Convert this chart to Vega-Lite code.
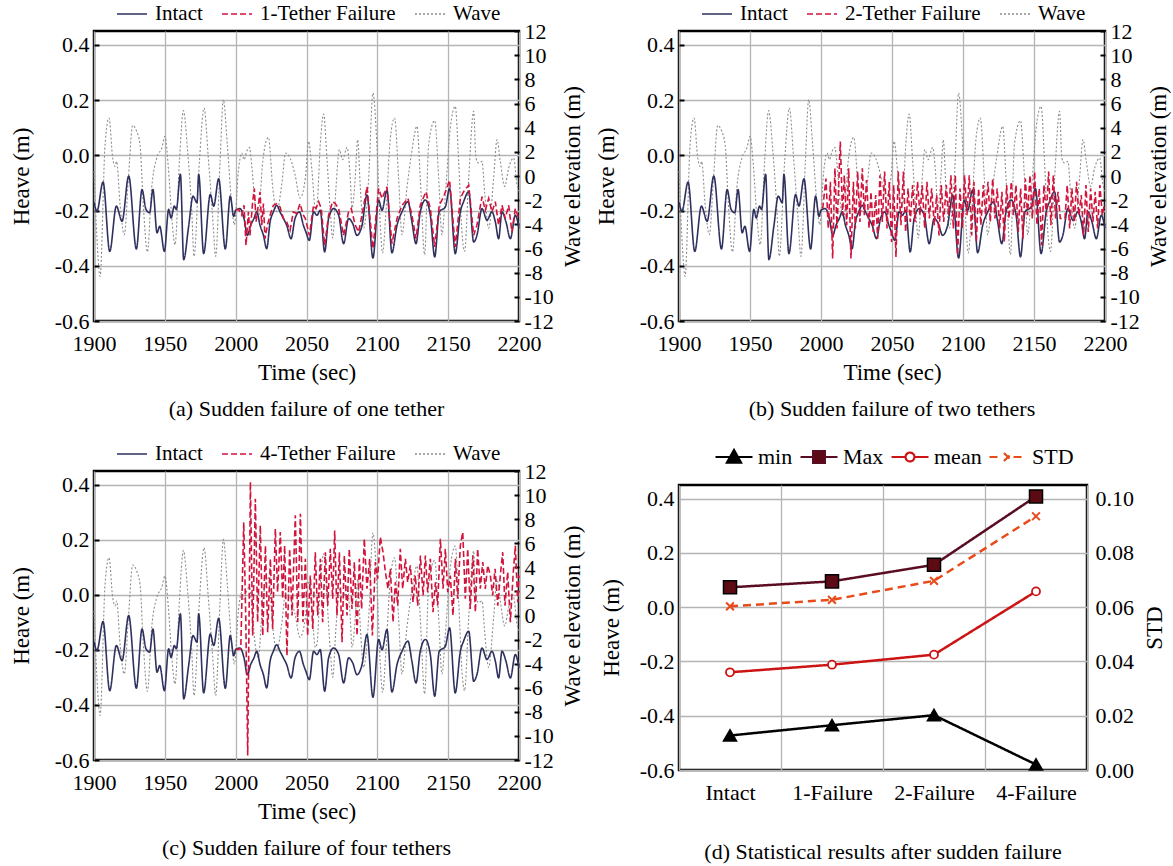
{
  "$schema": "https://vega.github.io/schema/vega-lite/v6.json",
  "padding": {"left": 8, "top": -4, "right": 10, "bottom": 5},
  "background": "white",
  "config": {
    "font": "Liberation Serif",
    "view": {"stroke": "#000000", "strokeWidth": 2.5},
    "axis": {
      "labelFont": "Liberation Serif", "labelFontSize": 22, "labelColor": "#000000",
      "titleFont": "Liberation Serif", "titleFontSize": 23, "titleFontWeight": "normal", "titleColor": "#000000",
      "domain": false, "gridColor": "#b4b4b4", "gridWidth": 1.3, "tickColor": "#000000", "tickWidth": 2,
      "labelFlush": false, "labelOverlap": false
    },
    "legend": {"labelFont": "Liberation Serif", "labelColor": "#000000", "labelLimit": 0},
    "title": {"font": "Liberation Serif", "fontSize": 22, "fontWeight": "normal", "color": "#000000", "orient": "bottom", "anchor": "middle"}
  },
  "datasets": {
    "intact": [
      {"t":1900.0,"h":-0.170},{"t":1902.1,"h":-0.202},{"t":1906.4,"h":-0.097},{"t":1911.1,"h":-0.348},{"t":1915.8,"h":-0.184},
      {"t":1919.8,"h":-0.239},{"t":1924.5,"h":-0.075},{"t":1929.9,"h":-0.339},{"t":1933.9,"h":-0.124},{"t":1936.7,"h":-0.196},
      {"t":1939.3,"h":-0.208},{"t":1941.6,"h":-0.124},{"t":1944.5,"h":-0.281},{"t":1946.4,"h":-0.257},{"t":1949.7,"h":-0.348},
      {"t":1952.7,"h":-0.196},{"t":1954.4,"h":-0.227},{"t":1956.7,"h":-0.184},{"t":1958.1,"h":-0.196},{"t":1961.0,"h":-0.069},
      {"t":1963.3,"h":-0.378},{"t":1966.8,"h":-0.257},{"t":1969.9,"h":-0.148},{"t":1972.7,"h":-0.172},{"t":1973.9,"h":-0.069},
      {"t":1977.4,"h":-0.356},{"t":1982.1,"h":-0.142},{"t":1984.5,"h":-0.184},{"t":1988.0,"h":-0.085},{"t":1992.7,"h":-0.339},
      {"t":1996.2,"h":-0.148},{"t":1998.6,"h":-0.221},{"t":2000.0,"h":-0.199},{"t":2003.1,"h":-0.193},{"t":2005.9,"h":-0.229},
      {"t":2008.3,"h":-0.290},{"t":2010.6,"h":-0.253},{"t":2012.9,"h":-0.229},{"t":2014.9,"h":-0.205},{"t":2017.2,"h":-0.253},
      {"t":2019.6,"h":-0.290},{"t":2021.9,"h":-0.338},{"t":2024.3,"h":-0.241},{"t":2026.6,"h":-0.205},{"t":2029.0,"h":-0.181},
      {"t":2031.3,"h":-0.205},{"t":2033.7,"h":-0.229},{"t":2036.0,"h":-0.253},{"t":2039.1,"h":-0.302},{"t":2041.9,"h":-0.229},
      {"t":2045.0,"h":-0.205},{"t":2047.8,"h":-0.253},{"t":2049.6,"h":-0.278},{"t":2052.0,"h":-0.308},{"t":2055.0,"h":-0.205},
      {"t":2057.4,"h":-0.217},{"t":2059.7,"h":-0.199},{"t":2062.8,"h":-0.350},{"t":2065.6,"h":-0.229},{"t":2069.2,"h":-0.193},
      {"t":2072.7,"h":-0.217},{"t":2076.2,"h":-0.320},{"t":2079.7,"h":-0.229},{"t":2082.6,"h":-0.247},{"t":2085.6,"h":-0.290},
      {"t":2089.2,"h":-0.253},{"t":2092.7,"h":-0.144},{"t":2096.9,"h":-0.372},{"t":2100.9,"h":-0.162},{"t":2103.3,"h":-0.199},
      {"t":2106.8,"h":-0.126},{"t":2110.3,"h":-0.353},{"t":2113.9,"h":-0.253},{"t":2117.4,"h":-0.205},{"t":2121.6,"h":-0.168},
      {"t":2124.4,"h":-0.241},{"t":2127.3,"h":-0.320},{"t":2130.3,"h":-0.205},{"t":2133.9,"h":-0.162},{"t":2137.4,"h":-0.217},
      {"t":2140.5,"h":-0.368},{"t":2143.7,"h":-0.205},{"t":2148.0,"h":-0.187},{"t":2151.0,"h":-0.120},{"t":2155.0,"h":-0.356},
      {"t":2158.6,"h":-0.205},{"t":2160.9,"h":-0.168},{"t":2164.5,"h":-0.132},{"t":2168.0,"h":-0.314},{"t":2170.3,"h":-0.290},
      {"t":2173.9,"h":-0.193},{"t":2177.4,"h":-0.235},{"t":2180.9,"h":-0.205},{"t":2183.3,"h":-0.241},{"t":2185.6,"h":-0.302},
      {"t":2188.0,"h":-0.205},{"t":2190.8,"h":-0.241},{"t":2193.9,"h":-0.302},{"t":2197.4,"h":-0.217},{"t":2200.0,"h":-0.265}
    ],
    "wave": [
      {"t":1900.0,"w":0.4},{"t":1902.0,"w":-5.0},{"t":1904.3,"w":-8.3},{"t":1907.8,"w":2.59},{"t":1910.6,"w":4.80},
      {"t":1913.2,"w":1.49},{"t":1914.8,"w":0.80},{"t":1916.0,"w":1.21},{"t":1918.4,"w":-2.37},{"t":1921.4,"w":-4.86},
      {"t":1924.3,"w":-0.17},{"t":1927.3,"w":4.19},{"t":1930.1,"w":3.70},{"t":1932.5,"w":2.59},{"t":1934.8,"w":-2.37},
      {"t":1937.7,"w":-6.29},{"t":1940.7,"w":-0.99},{"t":1944.3,"w":1.49},{"t":1947.8,"w":2.32},{"t":1950.1,"w":3.28},
      {"t":1952.5,"w":0.66},{"t":1954.9,"w":-3.48},{"t":1957.2,"w":-5.69},{"t":1960.3,"w":1.21},{"t":1963.1,"w":5.41},
      {"t":1966.1,"w":2.04},{"t":1969.0,"w":-2.93},{"t":1970.6,"w":-6.65},{"t":1974.4,"w":1.21},{"t":1977.7,"w":5.63},
      {"t":1980.7,"w":1.49},{"t":1983.8,"w":-3.48},{"t":1985.9,"w":-6.65},{"t":1989.0,"w":1.21},{"t":1991.3,"w":6.32},
      {"t":1994.1,"w":2.59},{"t":1997.2,"w":-2.37},{"t":1999.1,"w":-4.03},{"t":2001.9,"w":0.38},{"t":2004.3,"w":1.90},
      {"t":2005.9,"w":1.35},{"t":2007.8,"w":2.04},{"t":2009.7,"w":2.37},{"t":2011.3,"w":0.94},{"t":2013.7,"w":-2.37},
      {"t":2016.0,"w":-3.48},{"t":2019.1,"w":1.21},{"t":2023.1,"w":3.20},{"t":2026.2,"w":-0.99},{"t":2029.0,"w":-2.93},
      {"t":2032.5,"w":-0.72},{"t":2035.3,"w":1.90},{"t":2038.4,"w":1.49},{"t":2041.9,"w":0.11},{"t":2045.4,"w":-1.82},
      {"t":2049.2,"w":-0.17},{"t":2051.5,"w":2.87},{"t":2053.9,"w":0.38},{"t":2056.2,"w":-2.65},{"t":2057.4,"w":-2.37},
      {"t":2059.7,"w":2.59},{"t":2062.1,"w":5.13},{"t":2064.4,"w":1.49},{"t":2066.8,"w":-2.93},{"t":2068.5,"w":-5.13},
      {"t":2070.8,"w":-0.99},{"t":2073.2,"w":2.18},{"t":2075.5,"w":1.35},{"t":2078.6,"w":2.37},{"t":2080.9,"w":-0.17},
      {"t":2082.1,"w":-2.65},{"t":2084.4,"w":-0.17},{"t":2086.1,"w":3.00},{"t":2088.0,"w":-0.99},{"t":2090.3,"w":-4.31},
      {"t":2093.9,"w":-0.17},{"t":2096.9,"w":6.87},{"t":2099.7,"w":2.59},{"t":2102.1,"w":-4.03},{"t":2103.7,"w":-6.37},
      {"t":2106.1,"w":-2.93},{"t":2109.2,"w":3.14},{"t":2112.2,"w":4.80},{"t":2115.0,"w":-0.17},{"t":2117.4,"w":-4.86},
      {"t":2120.9,"w":-0.99},{"t":2124.0,"w":1.76},{"t":2128.0,"w":4.11},{"t":2130.3,"w":-0.17},{"t":2133.4,"w":-6.51},
      {"t":2136.2,"w":2.59},{"t":2140.5,"w":4.58},{"t":2143.3,"w":-0.17},{"t":2145.6,"w":-4.86},{"t":2148.0,"w":-1.55},
      {"t":2151.5,"w":3.97},{"t":2155.0,"w":5.76},{"t":2157.4,"w":1.21},{"t":2159.7,"w":-4.58},{"t":2161.6,"w":-6.24},
      {"t":2164.5,"w":-0.17},{"t":2168.0,"w":5.35},{"t":2169.6,"w":1.49},{"t":2171.5,"w":1.07},{"t":2173.9,"w":1.21},
      {"t":2175.7,"w":-1.27},{"t":2178.6,"w":-4.31},{"t":2182.1,"w":-0.17},{"t":2184.5,"w":3.01},{"t":2186.8,"w":1.21},
      {"t":2189.9,"w":-0.86},{"t":2192.7,"w":0.66},{"t":2196.2,"w":1.49},{"t":2198.6,"w":-0.72},{"t":2200.0,"w":-1.27}
    ],
    "f1": [
      {"t":2000.0,"h":-0.199},{"t":2002.0,"h":-0.195},{"t":2004.3,"h":-0.217},{"t":2005.9,"h":-0.181},{"t":2007.3,"h":-0.326},
      {"t":2009.0,"h":-0.205},{"t":2010.1,"h":-0.290},{"t":2012.0,"h":-0.168},{"t":2013.2,"h":-0.120},{"t":2014.4,"h":-0.241},
      {"t":2016.0,"h":-0.181},{"t":2017.2,"h":-0.132},{"t":2018.4,"h":-0.253},{"t":2019.6,"h":-0.175},{"t":2020.7,"h":-0.302},
      {"t":2022.4,"h":-0.253},{"t":2024.3,"h":-0.217},{"t":2026.6,"h":-0.181},{"t":2029.0,"h":-0.175},{"t":2031.3,"h":-0.187},
      {"t":2033.7,"h":-0.229},{"t":2036.0,"h":-0.241},{"t":2038.4,"h":-0.272},{"t":2040.7,"h":-0.205},{"t":2043.1,"h":-0.211},
      {"t":2045.4,"h":-0.175},{"t":2047.8,"h":-0.217},{"t":2049.2,"h":-0.229},{"t":2052.0,"h":-0.290},{"t":2055.0,"h":-0.181},
      {"t":2056.7,"h":-0.193},{"t":2058.6,"h":-0.168},{"t":2060.4,"h":-0.193},{"t":2062.8,"h":-0.326},{"t":2065.6,"h":-0.217},
      {"t":2068.4,"h":-0.168},{"t":2070.3,"h":-0.175},{"t":2072.7,"h":-0.193},{"t":2076.2,"h":-0.290},{"t":2079.7,"h":-0.205},
      {"t":2081.6,"h":-0.193},{"t":2084.4,"h":-0.253},{"t":2086.8,"h":-0.278},{"t":2089.6,"h":-0.205},{"t":2092.7,"h":-0.114},
      {"t":2096.9,"h":-0.338},{"t":2100.9,"h":-0.120},{"t":2103.3,"h":-0.156},{"t":2106.8,"h":-0.114},{"t":2110.3,"h":-0.320},
      {"t":2113.9,"h":-0.229},{"t":2117.4,"h":-0.181},{"t":2121.6,"h":-0.156},{"t":2124.4,"h":-0.217},{"t":2127.3,"h":-0.302},
      {"t":2130.3,"h":-0.181},{"t":2134.3,"h":-0.132},{"t":2137.4,"h":-0.193},{"t":2140.5,"h":-0.332},{"t":2143.7,"h":-0.181},
      {"t":2146.8,"h":-0.150},{"t":2151.0,"h":-0.090},{"t":2155.0,"h":-0.332},{"t":2158.6,"h":-0.156},{"t":2160.9,"h":-0.132},
      {"t":2164.5,"h":-0.108},{"t":2168.0,"h":-0.290},{"t":2170.3,"h":-0.253},{"t":2173.9,"h":-0.150},{"t":2176.2,"h":-0.199},
      {"t":2178.6,"h":-0.156},{"t":2180.9,"h":-0.205},{"t":2183.3,"h":-0.168},{"t":2185.6,"h":-0.253},{"t":2188.0,"h":-0.181},
      {"t":2190.3,"h":-0.229},{"t":2192.7,"h":-0.181},{"t":2195.0,"h":-0.278},{"t":2197.4,"h":-0.193},{"t":2199.8,"h":-0.229}
    ],
    "f2": [
      {"t":2001.2,"h":-0.193},{"t":2003.5,"h":-0.084},{"t":2005.1,"h":-0.265},{"t":2006.6,"h":-0.096},{"t":2008.2,"h":-0.374},
      {"t":2009.8,"h":-0.047},{"t":2011.3,"h":-0.265},{"t":2013.6,"h":0.050},{"t":2015.2,"h":-0.217},{"t":2016.4,"h":-0.072},
      {"t":2018.1,"h":-0.253},{"t":2019.5,"h":-0.047},{"t":2021.1,"h":-0.374},{"t":2022.8,"h":-0.096},{"t":2024.2,"h":-0.265},
      {"t":2025.8,"h":-0.059},{"t":2027.4,"h":-0.241},{"t":2029.1,"h":-0.047},{"t":2030.5,"h":-0.217},{"t":2032.1,"h":-0.090},
      {"t":2033.8,"h":-0.265},{"t":2035.2,"h":-0.132},{"t":2036.8,"h":-0.278},{"t":2038.5,"h":-0.144},{"t":2039.9,"h":-0.302},
      {"t":2041.5,"h":-0.072},{"t":2043.2,"h":-0.241},{"t":2044.8,"h":-0.059},{"t":2046.5,"h":-0.265},{"t":2048.1,"h":-0.096},
      {"t":2049.7,"h":-0.314},{"t":2051.2,"h":-0.108},{"t":2052.8,"h":-0.368},{"t":2054.4,"h":-0.059},{"t":2056.3,"h":-0.253},
      {"t":2058.0,"h":-0.059},{"t":2059.6,"h":-0.278},{"t":2061.3,"h":-0.120},{"t":2062.9,"h":-0.241},{"t":2064.5,"h":-0.108},
      {"t":2066.2,"h":-0.241},{"t":2068.0,"h":-0.096},{"t":2069.7,"h":-0.217},{"t":2071.3,"h":-0.108},{"t":2073.0,"h":-0.265},
      {"t":2074.6,"h":-0.096},{"t":2076.3,"h":-0.229},{"t":2077.9,"h":-0.120},{"t":2079.8,"h":-0.253},{"t":2081.4,"h":-0.144},
      {"t":2083.1,"h":-0.290},{"t":2084.7,"h":-0.108},{"t":2086.4,"h":-0.241},{"t":2088.2,"h":-0.108},{"t":2089.9,"h":-0.217},
      {"t":2091.5,"h":-0.072},{"t":2093.2,"h":-0.265},{"t":2094.6,"h":-0.072},{"t":2096.2,"h":-0.362},{"t":2097.9,"h":-0.120},
      {"t":2099.5,"h":-0.265},{"t":2101.1,"h":-0.072},{"t":2102.8,"h":-0.217},{"t":2104.4,"h":-0.072},{"t":2106.1,"h":-0.290},
      {"t":2107.7,"h":-0.096},{"t":2109.4,"h":-0.314},{"t":2111.0,"h":-0.120},{"t":2112.6,"h":-0.253},{"t":2114.3,"h":-0.108},
      {"t":2115.9,"h":-0.217},{"t":2117.6,"h":-0.096},{"t":2119.2,"h":-0.241},{"t":2120.9,"h":-0.084},{"t":2122.5,"h":-0.229},
      {"t":2124.1,"h":-0.120},{"t":2125.8,"h":-0.265},{"t":2127.4,"h":-0.132},{"t":2129.1,"h":-0.314},{"t":2130.7,"h":-0.108},
      {"t":2132.4,"h":-0.229},{"t":2134.0,"h":-0.096},{"t":2135.6,"h":-0.217},{"t":2137.3,"h":-0.108},{"t":2138.9,"h":-0.278},
      {"t":2140.6,"h":-0.120},{"t":2142.2,"h":-0.302},{"t":2143.9,"h":-0.084},{"t":2145.5,"h":-0.217},{"t":2147.2,"h":-0.072},
      {"t":2148.8,"h":-0.229},{"t":2150.4,"h":-0.059},{"t":2152.1,"h":-0.253},{"t":2153.7,"h":-0.120},{"t":2155.4,"h":-0.326},
      {"t":2157.0,"h":-0.108},{"t":2158.7,"h":-0.217},{"t":2160.3,"h":-0.059},{"t":2161.9,"h":-0.253},{"t":2163.6,"h":-0.072},
      {"t":2165.2,"h":-0.229},{"t":2166.9,"h":-0.132},{"t":2168.5,"h":-0.229},{"t":2170.1,"h":-0.229},{"t":2171.8,"h":-0.229},
      {"t":2173.4,"h":-0.108},{"t":2175.1,"h":-0.265},{"t":2176.7,"h":-0.120},{"t":2178.4,"h":-0.241},{"t":2180.0,"h":-0.096},
      {"t":2181.6,"h":-0.217},{"t":2183.3,"h":-0.144},{"t":2184.9,"h":-0.290},{"t":2186.6,"h":-0.108},{"t":2188.2,"h":-0.278},
      {"t":2189.9,"h":-0.120},{"t":2191.5,"h":-0.241},{"t":2193.1,"h":-0.132},{"t":2194.8,"h":-0.265},{"t":2196.4,"h":-0.108},
      {"t":2198.1,"h":-0.217},{"t":2199.5,"h":-0.180}
    ],
    "f4": [
      {"t":2000.0,"h":-0.199},{"t":2003.6,"h":-0.196},{"t":2005.7,"h":0.264},{"t":2007.1,"h":-0.075},{"t":2008.5,"h":-0.584},
      {"t":2010.4,"h":0.410},{"t":2012.0,"h":-0.148},{"t":2013.9,"h":0.349},{"t":2015.5,"h":-0.099},{"t":2017.4,"h":0.252},
      {"t":2019.1,"h":-0.148},{"t":2021.0,"h":0.179},{"t":2022.6,"h":-0.136},{"t":2024.5,"h":0.131},{"t":2026.1,"h":-0.124},
      {"t":2028.0,"h":0.240},{"t":2029.6,"h":0.010},{"t":2031.5,"h":0.228},{"t":2033.2,"h":-0.014},{"t":2034.6,"h":0.179},
      {"t":2036.2,"h":-0.221},{"t":2038.1,"h":0.167},{"t":2039.8,"h":-0.075},{"t":2042.1,"h":0.289},{"t":2043.8,"h":-0.099},
      {"t":2045.7,"h":0.295},{"t":2047.5,"h":-0.099},{"t":2049.2,"h":0.131},{"t":2050.8,"h":-0.148},{"t":2052.7,"h":0.070},
      {"t":2054.4,"h":-0.124},{"t":2056.2,"h":0.155},{"t":2057.9,"h":-0.075},{"t":2059.8,"h":0.131},{"t":2061.4,"h":-0.099},
      {"t":2063.3,"h":0.155},{"t":2065.0,"h":-0.039},{"t":2066.8,"h":0.167},{"t":2068.5,"h":-0.014},{"t":2069.9,"h":0.234},
      {"t":2071.5,"h":-0.075},{"t":2073.2,"h":0.155},{"t":2075.1,"h":-0.172},{"t":2076.7,"h":0.143},{"t":2078.6,"h":-0.075},
      {"t":2080.2,"h":0.167},{"t":2082.1,"h":-0.051},{"t":2083.8,"h":0.119},{"t":2085.7,"h":-0.148},{"t":2087.3,"h":0.131},
      {"t":2088.9,"h":-0.051},{"t":2090.8,"h":0.204},{"t":2092.7,"h":0.022},{"t":2094.6,"h":0.131},{"t":2096.5,"h":-0.148},
      {"t":2098.6,"h":0.119},{"t":2100.2,"h":0.058},{"t":2102.1,"h":0.210},{"t":2104.0,"h":0.155},{"t":2105.7,"h":0.083},
      {"t":2107.5,"h":0.022},{"t":2109.2,"h":0.095},{"t":2111.1,"h":-0.099},{"t":2112.7,"h":0.046},{"t":2114.4,"h":-0.039},
      {"t":2116.2,"h":0.167},{"t":2117.9,"h":0.022},{"t":2119.8,"h":0.131},{"t":2121.4,"h":0.046},{"t":2123.3,"h":0.107},
      {"t":2125.2,"h":-0.027},{"t":2126.8,"h":0.070},{"t":2128.5,"h":-0.039},{"t":2130.4,"h":0.143},{"t":2132.3,"h":-0.002},
      {"t":2133.9,"h":0.143},{"t":2135.5,"h":0.010},{"t":2137.4,"h":0.131},{"t":2139.3,"h":-0.063},{"t":2141.0,"h":0.046},
      {"t":2142.6,"h":-0.039},{"t":2144.5,"h":0.204},{"t":2146.4,"h":0.022},{"t":2148.0,"h":0.167},{"t":2149.7,"h":0.010},
      {"t":2151.5,"h":0.070},{"t":2153.4,"h":-0.075},{"t":2155.1,"h":0.131},{"t":2156.7,"h":-0.014},{"t":2158.6,"h":0.179},
      {"t":2160.3,"h":0.228},{"t":2162.1,"h":-0.014},{"t":2163.8,"h":0.167},{"t":2165.6,"h":-0.051},{"t":2167.5,"h":0.143},
      {"t":2169.2,"h":-0.063},{"t":2170.8,"h":0.167},{"t":2172.7,"h":0.022},{"t":2174.4,"h":0.119},{"t":2176.2,"h":0.022},
      {"t":2177.9,"h":0.107},{"t":2179.8,"h":0.070},{"t":2181.4,"h":-0.002},{"t":2183.1,"h":0.095},{"t":2185.0,"h":-0.039},
      {"t":2186.8,"h":0.070},{"t":2188.5,"h":0.155},{"t":2190.1,"h":-0.039},{"t":2192.0,"h":0.083},{"t":2193.9,"h":-0.099},
      {"t":2195.8,"h":0.070},{"t":2197.4,"h":0.179},{"t":2199.1,"h":-0.027},{"t":2200.0,"h":0.070}
    ],
    "stats": [
      {"cat":"Intact","series":"min","v":-0.473},{"cat":"1-Failure","series":"min","v":-0.435},{"cat":"2-Failure","series":"min","v":-0.398},{"cat":"4-Failure","series":"min","v":-0.580},
      {"cat":"Intact","series":"Max","v":0.073},{"cat":"1-Failure","series":"Max","v":0.095},{"cat":"2-Failure","series":"Max","v":0.156},{"cat":"4-Failure","series":"Max","v":0.408},
      {"cat":"Intact","series":"mean","v":-0.240},{"cat":"1-Failure","series":"mean","v":-0.212},{"cat":"2-Failure","series":"mean","v":-0.175},{"cat":"4-Failure","series":"mean","v":0.058}
    ],
    "std": [
      {"cat":"Intact","std":0.0603},{"cat":"1-Failure","std":0.0627},{"cat":"2-Failure","std":0.0697},{"cat":"4-Failure","std":0.0935}
    ]
  },
  "spacing": 7,
  "resolve": {"scale": {"color": "independent", "strokeDash": "independent"}, "legend": {"color": "independent", "strokeDash": "independent"}},
  "hconcat": [
    {
      "bounds": "flush",
      "spacing": 150,
      "resolve": {"scale": {"color": "independent", "strokeDash": "independent"}, "legend": {"color": "independent", "strokeDash": "independent"}},
      "vconcat": [
        {
          "width": 425, "height": 290,
          "title": {"text": "(a) Sudden failure of one tether", "offset": 15},
          "resolve": {"scale": {"y": "independent"}},
          "layer": [
            {
              "data": {"name": "wave"},
              "mark": {"type": "line", "strokeWidth": 1.1, "interpolate": "monotone"},
              "encoding": {
                "x": {"field": "t", "type": "quantitative", "scale": {"domain": [1900, 2200], "nice": false, "zero": false},
                      "axis": {"values": [1900, 1950, 2000, 2050, 2100, 2150, 2200], "format": "d", "title": "Time (sec)", "grid": true, "ticks": false, "labelPadding": 12, "titlePadding": 7}},
                "y": {"field": "w", "type": "quantitative", "scale": {"domain": [-12, 12], "nice": false, "zero": false},
                      "axis": {"orient": "right", "values": [-12, -10, -8, -6, -4, -2, 0, 2, 4, 6, 8, 10, 12], "format": "d", "labelExpr": "replace(datum.label, '\u2212', '-')", "title": "Wave elevation (m)", "titleAngle": 270, "titleBaseline": "top", "grid": false, "tickSize": -5, "labelPadding": 10, "titlePadding": 8}},
                "color": {"datum": "Wave", "scale": {"domain": ["Intact", "1-Tether Failure", "Wave"], "range": ["#2e305e", "#d2143c", "#8c8c8c"]},
                          "legend": {"title": null, "orient": "none", "legendX": 22, "legendY": -33, "direction": "horizontal", "columns": 3, "symbolType": "stroke", "symbolSize": 900, "symbolStrokeWidth": 1.5, "labelFontSize": 21, "labelOffset": 7, "columnPadding": 16}},
                "strokeDash": {"datum": "Wave", "scale": {"domain": ["Intact", "1-Tether Failure", "Wave"], "range": [[1, 0], [6, 3], [2, 2]]},
                          "legend": {"title": null, "orient": "none", "legendX": 22, "legendY": -33, "direction": "horizontal", "columns": 3, "symbolType": "stroke", "symbolSize": 900, "symbolStrokeWidth": 1.5, "labelFontSize": 21, "labelOffset": 7, "columnPadding": 16}}
              }
            },
            {
              "data": {"name": "intact"},
              "mark": {"type": "line", "strokeWidth": 1.6, "interpolate": "monotone"},
              "encoding": {
                "x": {"field": "t", "type": "quantitative"},
                "y": {"field": "h", "type": "quantitative", "scale": {"domain": [-0.6, 0.45], "nice": false, "zero": false},
                      "axis": {"orient": "left", "values": [-0.6, -0.4, -0.2, 0, 0.2, 0.4], "format": ".1f", "labelExpr": "replace(datum.label, '\u2212', '-')", "title": "Heave (m)", "grid": true, "tickSize": -5, "labelPadding": 10, "titlePadding": 21}},
                "color": {"datum": "Intact"},
                "strokeDash": {"datum": "Intact"}
              }
            },
            {
              "data": {"name": "f1"},
              "mark": {"type": "line", "strokeWidth": 1.6},
              "encoding": {
                "x": {"field": "t", "type": "quantitative"},
                "y": {"field": "h", "type": "quantitative", "scale": {"domain": [-0.6, 0.45], "nice": false, "zero": false}, "axis": null},
                "color": {"datum": "1-Tether Failure"},
                "strokeDash": {"datum": "1-Tether Failure"}
              }
            }
          ]
        },
        {
          "width": 425, "height": 289,
          "title": {"text": "(c) Sudden failure of four tethers", "offset": 15},
          "resolve": {"scale": {"y": "independent"}},
          "layer": [
            {
              "data": {"name": "wave"},
              "mark": {"type": "line", "strokeWidth": 1.1, "interpolate": "monotone"},
              "encoding": {
                "x": {"field": "t", "type": "quantitative", "scale": {"domain": [1900, 2200], "nice": false, "zero": false},
                      "axis": {"values": [1900, 1950, 2000, 2050, 2100, 2150, 2200], "format": "d", "title": "Time (sec)", "grid": true, "ticks": false, "labelPadding": 12, "titlePadding": 7}},
                "y": {"field": "w", "type": "quantitative", "scale": {"domain": [-12, 12], "nice": false, "zero": false},
                      "axis": {"orient": "right", "values": [-12, -10, -8, -6, -4, -2, 0, 2, 4, 6, 8, 10, 12], "format": "d", "labelExpr": "replace(datum.label, '\u2212', '-')", "title": "Wave elevation (m)", "titleAngle": 270, "titleBaseline": "top", "grid": false, "tickSize": -5, "labelPadding": 10, "titlePadding": 8}},
                "color": {"datum": "Wave", "scale": {"domain": ["Intact", "4-Tether Failure", "Wave"], "range": ["#2e305e", "#d2143c", "#8c8c8c"]},
                          "legend": {"title": null, "orient": "none", "legendX": 22, "legendY": -33, "direction": "horizontal", "columns": 3, "symbolType": "stroke", "symbolSize": 900, "symbolStrokeWidth": 1.5, "labelFontSize": 21, "labelOffset": 7, "columnPadding": 16}},
                "strokeDash": {"datum": "Wave", "scale": {"domain": ["Intact", "4-Tether Failure", "Wave"], "range": [[1, 0], [6, 3], [2, 2]]},
                          "legend": {"title": null, "orient": "none", "legendX": 22, "legendY": -33, "direction": "horizontal", "columns": 3, "symbolType": "stroke", "symbolSize": 900, "symbolStrokeWidth": 1.5, "labelFontSize": 21, "labelOffset": 7, "columnPadding": 16}}
              }
            },
            {
              "data": {"name": "intact"},
              "mark": {"type": "line", "strokeWidth": 1.6, "interpolate": "monotone"},
              "encoding": {
                "x": {"field": "t", "type": "quantitative"},
                "y": {"field": "h", "type": "quantitative", "scale": {"domain": [-0.6, 0.45], "nice": false, "zero": false},
                      "axis": {"orient": "left", "values": [-0.6, -0.4, -0.2, 0, 0.2, 0.4], "format": ".1f", "labelExpr": "replace(datum.label, '\u2212', '-')", "title": "Heave (m)", "grid": true, "tickSize": -5, "labelPadding": 10, "titlePadding": 21}},
                "color": {"datum": "Intact"},
                "strokeDash": {"datum": "Intact"}
              }
            },
            {
              "data": {"name": "f4"},
              "mark": {"type": "line", "strokeWidth": 1.6},
              "encoding": {
                "x": {"field": "t", "type": "quantitative"},
                "y": {"field": "h", "type": "quantitative", "scale": {"domain": [-0.6, 0.45], "nice": false, "zero": false}, "axis": null},
                "color": {"datum": "4-Tether Failure"},
                "strokeDash": {"datum": "4-Tether Failure"}
              }
            }
          ]
        }
      ]
    },
    {
      "bounds": "flush",
      "spacing": 164,
      "resolve": {"scale": {"color": "independent", "strokeDash": "independent"}, "legend": {"color": "independent", "strokeDash": "independent"}},
      "vconcat": [
        {
          "width": 426, "height": 290,
          "title": {"text": "(b) Sudden failure of two tethers", "offset": 15},
          "resolve": {"scale": {"y": "independent"}},
          "layer": [
            {
              "data": {"name": "wave"},
              "mark": {"type": "line", "strokeWidth": 1.1, "interpolate": "monotone"},
              "encoding": {
                "x": {"field": "t", "type": "quantitative", "scale": {"domain": [1900, 2200], "nice": false, "zero": false},
                      "axis": {"values": [1900, 1950, 2000, 2050, 2100, 2150, 2200], "format": "d", "title": "Time (sec)", "grid": true, "ticks": false, "labelPadding": 12, "titlePadding": 7}},
                "y": {"field": "w", "type": "quantitative", "scale": {"domain": [-12, 12], "nice": false, "zero": false},
                      "axis": {"orient": "right", "values": [-12, -10, -8, -6, -4, -2, 0, 2, 4, 6, 8, 10, 12], "format": "d", "labelExpr": "replace(datum.label, '\u2212', '-')", "title": "Wave elevation (m)", "titleAngle": 270, "titleBaseline": "top", "grid": false, "tickSize": -5, "labelPadding": 10, "titlePadding": 8}},
                "color": {"datum": "Wave", "scale": {"domain": ["Intact", "2-Tether Failure", "Wave"], "range": ["#2e305e", "#d2143c", "#8c8c8c"]},
                          "legend": {"title": null, "orient": "none", "legendX": 22, "legendY": -33, "direction": "horizontal", "columns": 3, "symbolType": "stroke", "symbolSize": 900, "symbolStrokeWidth": 1.5, "labelFontSize": 21, "labelOffset": 7, "columnPadding": 16}},
                "strokeDash": {"datum": "Wave", "scale": {"domain": ["Intact", "2-Tether Failure", "Wave"], "range": [[1, 0], [6, 3], [2, 2]]},
                          "legend": {"title": null, "orient": "none", "legendX": 22, "legendY": -33, "direction": "horizontal", "columns": 3, "symbolType": "stroke", "symbolSize": 900, "symbolStrokeWidth": 1.5, "labelFontSize": 21, "labelOffset": 7, "columnPadding": 16}}
              }
            },
            {
              "data": {"name": "intact"},
              "mark": {"type": "line", "strokeWidth": 1.6, "interpolate": "monotone"},
              "encoding": {
                "x": {"field": "t", "type": "quantitative"},
                "y": {"field": "h", "type": "quantitative", "scale": {"domain": [-0.6, 0.45], "nice": false, "zero": false},
                      "axis": {"orient": "left", "values": [-0.6, -0.4, -0.2, 0, 0.2, 0.4], "format": ".1f", "labelExpr": "replace(datum.label, '\u2212', '-')", "title": "Heave (m)", "grid": true, "tickSize": -5, "labelPadding": 10, "titlePadding": 21}},
                "color": {"datum": "Intact"},
                "strokeDash": {"datum": "Intact"}
              }
            },
            {
              "data": {"name": "f2"},
              "mark": {"type": "line", "strokeWidth": 1.6},
              "encoding": {
                "x": {"field": "t", "type": "quantitative"},
                "y": {"field": "h", "type": "quantitative", "scale": {"domain": [-0.6, 0.45], "nice": false, "zero": false}, "axis": null},
                "color": {"datum": "2-Tether Failure"},
                "strokeDash": {"datum": "2-Tether Failure"}
              }
            }
          ]
        },
        {
          "width": 408, "height": 285,
          "title": {"text": "(d) Statistical results after sudden failure", "offset": 39},
          "resolve": {"scale": {"y": "independent"}},
          "layer": [
            {
              "data": {"name": "stats"},
              "mark": {"type": "line", "strokeWidth": 2.5},
              "encoding": {
                "x": {"field": "cat", "type": "nominal", "scale": {"type": "band", "domain": ["Intact", "1-Failure", "2-Failure", "4-Failure"], "paddingInner": 0, "paddingOuter": 0},
                      "axis": {"title": null, "tickBand": "extent", "grid": true, "ticks": false, "labelAngle": 0, "labelPadding": 12}},
                "y": {"field": "v", "type": "quantitative", "scale": {"domain": [-0.6, 0.45], "nice": false, "zero": false},
                      "axis": {"orient": "left", "values": [-0.6, -0.4, -0.2, 0, 0.2, 0.4], "format": ".1f", "labelExpr": "replace(datum.label, '\u2212', '-')", "title": "Heave (m)", "grid": true, "ticks": false, "labelPadding": 5, "titlePadding": 16}},
                "color": {"field": "series", "type": "nominal", "scale": {"domain": ["min", "Max", "mean", "STD"], "range": ["#000000", "#5a0d22", "#cc1414", "#e84a1a"]},
                          "legend": {"title": null, "orient": "none", "legendX": 35, "legendY": -48, "direction": "horizontal", "columns": 4, "symbolSize": 1369, "symbolStrokeWidth": 2.2, "labelFontSize": 22, "labelOffset": 4, "columnPadding": 3,
                                     "encode": {"symbols": {"update": {
                                       "shape": {"signal": "datum.value === 'min' ? 'M-1,0H1M0,-0.38L0.38,0.3H-0.38Z' : datum.value === 'Max' ? 'M-1,0H-0.32M0.32,0H1M-0.32,-0.32H0.32V0.32H-0.32Z' : datum.value === 'mean' ? 'M-1,0H-0.24M0.24,0H1M0.24,0A0.24,0.24,0,1,1,-0.24,0A0.24,0.24,0,1,1,0.24,0' : 'M-1,0H-0.3M0.3,0H1M-0.22,-0.22L0.22,0.22M-0.22,0.22L0.22,-0.22'"},
                                       "fill": {"signal": "datum.value === 'min' ? '#000000' : datum.value === 'Max' ? '#5c0a14' : datum.value === 'mean' ? '#ffffff' : 'transparent'"}
                                     }}}}},
                "strokeDash": {"field": "series", "type": "nominal", "scale": {"domain": ["min", "Max", "mean", "STD"], "range": [[1, 0], [1, 0], [1, 0], [8, 5]]},
                          "legend": {"title": null, "orient": "none", "legendX": 35, "legendY": -48, "direction": "horizontal", "columns": 4, "symbolSize": 1369, "symbolStrokeWidth": 2.2, "labelFontSize": 22, "labelOffset": 4, "columnPadding": 3,
                                     "encode": {"symbols": {"update": {
                                       "shape": {"signal": "datum.value === 'min' ? 'M-1,0H1M0,-0.38L0.38,0.3H-0.38Z' : datum.value === 'Max' ? 'M-1,0H-0.32M0.32,0H1M-0.32,-0.32H0.32V0.32H-0.32Z' : datum.value === 'mean' ? 'M-1,0H-0.24M0.24,0H1M0.24,0A0.24,0.24,0,1,1,-0.24,0A0.24,0.24,0,1,1,0.24,0' : 'M-1,0H-0.3M0.3,0H1M-0.22,-0.22L0.22,0.22M-0.22,0.22L0.22,-0.22'"},
                                       "fill": {"signal": "datum.value === 'min' ? '#000000' : datum.value === 'Max' ? '#5c0a14' : datum.value === 'mean' ? '#ffffff' : 'transparent'"}
                                     }}}}}
              }
            },
            {
              "data": {"name": "std"},
              "mark": {"type": "line", "strokeWidth": 2.5},
              "encoding": {
                "x": {"field": "cat", "type": "nominal"},
                "y": {"field": "std", "type": "quantitative", "scale": {"domain": [0, 0.105], "nice": false, "zero": false},
                      "axis": {"orient": "right", "values": [0, 0.02, 0.04, 0.06, 0.08, 0.1], "format": ".2f", "title": "STD", "titleAngle": 270, "titleBaseline": "top", "grid": false, "ticks": false, "labelPadding": 8, "titlePadding": 10}},
                "color": {"datum": "STD"},
                "strokeDash": {"datum": "STD"}
              }
            },
            {
              "data": {"name": "stats"},
              "transform": [{"filter": "datum.series === 'min'"}],
              "mark": {"type": "point", "shape": "triangle-up", "size": 150, "filled": true, "fill": "#000000", "stroke": "#000000", "opacity": 1},
              "encoding": {
                "x": {"field": "cat", "type": "nominal"},
                "y": {"field": "v", "type": "quantitative", "scale": {"domain": [-0.6, 0.45], "nice": false, "zero": false}, "axis": null}
              }
            },
            {
              "data": {"name": "stats"},
              "transform": [{"filter": "datum.series === 'Max'"}],
              "mark": {"type": "point", "shape": "square", "size": 170, "filled": true, "fill": "#5c0a14", "stroke": "#000000", "strokeWidth": 1.5, "opacity": 1},
              "encoding": {
                "x": {"field": "cat", "type": "nominal"},
                "y": {"field": "v", "type": "quantitative", "scale": {"domain": [-0.6, 0.45], "nice": false, "zero": false}, "axis": null}
              }
            },
            {
              "data": {"name": "stats"},
              "transform": [{"filter": "datum.series === 'mean'"}],
              "mark": {"type": "point", "shape": "circle", "size": 64, "filled": true, "fill": "#ffffff", "stroke": "#cc1414", "strokeWidth": 1.8, "opacity": 1},
              "encoding": {
                "x": {"field": "cat", "type": "nominal"},
                "y": {"field": "v", "type": "quantitative", "scale": {"domain": [-0.6, 0.45], "nice": false, "zero": false}, "axis": null}
              }
            },
            {
              "data": {"name": "std"},
              "mark": {"type": "point", "shape": "M-1,-1L1,1M-1,1L1,-1", "size": 60, "filled": false, "stroke": "#e84a1a", "strokeWidth": 2, "opacity": 1},
              "encoding": {
                "x": {"field": "cat", "type": "nominal"},
                "y": {"field": "std", "type": "quantitative", "scale": {"domain": [0, 0.105], "nice": false, "zero": false}, "axis": null}
              }
            }
          ]
        }
      ]
    }
  ]
}
